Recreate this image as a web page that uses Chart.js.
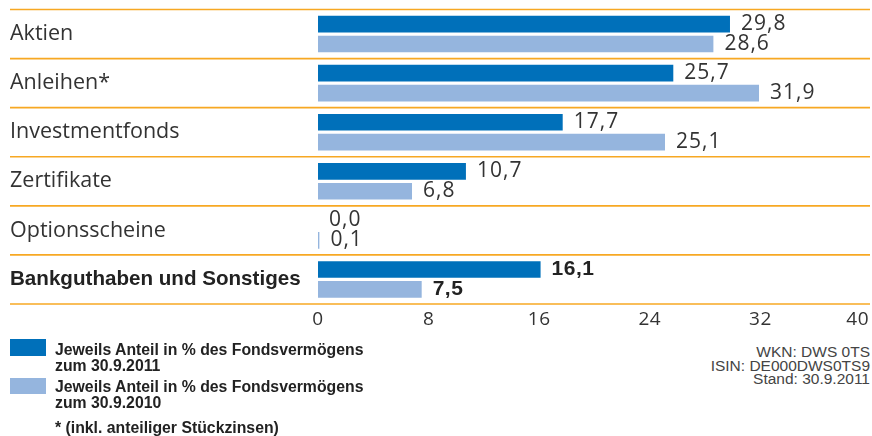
<!DOCTYPE html>
<html>
<head>
<meta charset="utf-8">
<script src="https://cdn.jsdelivr.net/npm/chart.js@4.4.1/dist/chart.umd.min.js"></script>
<style>
body { margin:0; background:#fff; width:872px; height:436px; overflow:hidden; position:relative; font-family:"Liberation Sans", Arial, sans-serif; }
#wrap { position:absolute; left:0; top:0; width:872px; height:340px; }
.box { position:absolute; left:10px; width:36px; height:17px; }
.leg { position:absolute; left:55px; font-weight:bold; font-size:15.8px; line-height:15.5px; color:#222; }
#info { position:absolute; right:2px; top:345px; text-align:right; font-size:15.5px; line-height:13.7px; color:#444; }
</style>
</head>
<body>
<div id="wrap"><canvas id="myChart" width="872" height="340"></canvas></div>
<div class="box" id="box0" style="top:339px"></div>
<div class="leg" id="leg0" style="top:342px"></div>
<div class="box" id="box1" style="top:378px;height:16px"></div>
<div class="leg" id="leg1" style="top:379px"></div>
<div class="leg" style="top:420px">* (inkl. anteiliger Stückzinsen)</div>
<div id="info">WKN: DWS 0TS<br>ISIN: DE000DWS0TS9<br>Stand: 30.9.2011</div>
<script>
const kategorien = ["Aktien", "Anleihen*", "Investmentfonds", "Zertifikate", "Optionsscheine", "Bankguthaben und Sonstiges"];
const werte2011 = [29.8, 25.7, 17.7, 10.7, 0.0, 16.1];
const werte2010 = [28.6, 31.9, 25.1, 6.8, 0.1, 7.5];
const xTicks = [0, 8, 16, 24, 32, 40];
const serien = ["Jeweils Anteil in % des Fondsvermögens<br>zum 30.9.2011", "Jeweils Anteil in % des Fondsvermögens<br>zum 30.9.2010"];
const farben = ["#0070ba", "#95b5de"];
const fettIndex = 5;

document.getElementById("box0").style.background = farben[0];
document.getElementById("box1").style.background = farben[1];
document.getElementById("leg0").innerHTML = serien[0];
document.getElementById("leg1").innerHTML = serien[1];

function zahl(v) {
    return v.toFixed(1).replace('.', ',');
}

// trennlinien, achsenbeschriftung und werte selbst zeichnen
const beschriftung = {
    id: 'beschriftung',
    afterDraw: function(chart) {
        const ctx = chart.ctx;
        const xs = chart.scales.x;
        const ys = chart.scales.y;
        ctx.save();

        ctx.strokeStyle = '#f7a823';
        ctx.lineWidth = 1.6;
        for (let i = 0; i <= kategorien.length; i++) {
            const y = ys.getPixelForValue(i - 0.5);
            ctx.beginPath();
            ctx.moveTo(10, y);
            ctx.lineTo(870, y);
            ctx.stroke();
        }

        ctx.textBaseline = 'middle';
        kategorien.forEach(function(k, i) {
            const y = ys.getPixelForValue(i);
            if (i == fettIndex) {
                ctx.font = 'bold 20.6px "Liberation Sans", Arial';
                ctx.fillStyle = '#222';
            } else {
                ctx.font = '21.5px "Open Sans"';
                ctx.fillStyle = '#333';
            }
            ctx.textAlign = 'left';
            ctx.fillText(k, 10, y);
        });

        ctx.font = '19px "Open Sans"';
        ctx.fillStyle = '#333';
        ctx.letterSpacing = '0.5px';
        xTicks.forEach(function(t, i) {
            const x = xs.getPixelForValue(t);
            if (i == xTicks.length - 1) {
                ctx.textAlign = 'right';
                ctx.fillText(String(t), x - 2, 320);
            } else {
                ctx.textAlign = 'center';
                ctx.fillText(String(t), x, 320);
            }
        });

        ctx.textAlign = 'left';
        chart.data.datasets.forEach(function(ds, d) {
            const meta = chart.getDatasetMeta(d);
            meta.data.forEach(function(bar, i) {
                if (i == fettIndex) {
                    ctx.font = 'bold 21px "Liberation Sans", Arial';
                    ctx.fillStyle = '#222';
                    ctx.letterSpacing = '0.5px';
                } else {
                    ctx.font = '21px "Open Sans"';
                    ctx.fillStyle = '#333';
                    ctx.letterSpacing = '1px';
                }
                ctx.fillText(zahl(ds.data[i]), bar.x + 11, bar.y);
            });
        });
        ctx.restore();
    }
};

const ctx = document.getElementById('myChart').getContext('2d');
const myChart = new Chart(ctx, {
    type: 'bar',
    data: {
        labels: kategorien,
        datasets: [
            { data: werte2011, backgroundColor: farben[0], categoryPercentage: 0.81, barPercentage: 0.84 },
            { data: werte2010, backgroundColor: farben[1], categoryPercentage: 0.81, barPercentage: 0.84 }
        ]
    },
    options: {
        indexAxis: 'y',
        responsive: false,
        animation: false,
        layout: {
            padding: { left: 318, right: 1, top: 9.5, bottom: 36 }
        },
        plugins: {
            legend: { display: false },
            tooltip: { enabled: false }
        },
        scales: {
            x: { display: false, min: 0, max: 40 },
            y: { display: false }
        }
    },
    plugins: [beschriftung]
});
</script>
</body>
</html>
